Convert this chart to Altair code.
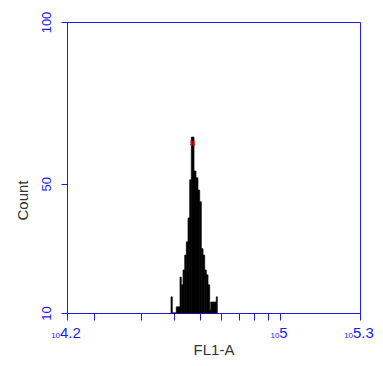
import altair as alt
import pandas as pd

# histogram bins (log10 of FL1-A) and counts
bin_edges_log = [4.5904, 4.5953, 4.6103, 4.6242, 4.6291, 4.6355, 4.6419, 4.6479,
                 4.6543, 4.6607, 4.6667, 4.6768, 4.6843, 4.6918, 4.6982, 4.7042,
                 4.7106, 4.7170, 4.7230, 4.7294, 4.7357, 4.7395, 4.7605, 4.7643]
counts = [15.0, 10.0, 11.9, 21.1, 18.7, 23.3, 27.9, 32.0, 39.4, 51.2, 64.4, 53.9,
          51.8, 48.0, 44.4, 29.9, 27.9, 23.3, 21.8, 18.7, 10.9, 13.4, 15.0]

peak_log = [4.6718]
peak_count = [62.5]

x_tick_log = [4.2, 4.30103, 4.47712, 4.60206, 4.69897, 4.77815, 4.84510, 4.90309, 4.95424, 5.0, 5.3]
x_label_log = [4.2, 5.0, 5.3]
x_label_exp = ["4.2", "5", "5.3"]
y_ticks = [10, 50, 100]

BLUE = "#1c1cf0"
FONT = "Liberation Sans"

hist = pd.DataFrame({
    "lo": [10 ** v for v in bin_edges_log[:-1]],
    "hi": [10 ** v for v in bin_edges_log[1:]],
    "count": counts,
})
peak = pd.DataFrame({"x": [10 ** v for v in peak_log], "y": peak_count})

xscale = alt.Scale(type="log", domain=[10 ** 4.2, 10 ** 5.3], nice=False)
yscale = alt.Scale(domain=[10, 100], nice=False, zero=False)

bars = alt.Chart(hist).mark_bar(color="black", stroke="black", strokeWidth=0.7).encode(
    x=alt.X("lo:Q", scale=xscale, axis=alt.Axis(
        values=[10 ** v for v in x_tick_log], labels=False, grid=False,
        tickSize=7, tickColor=BLUE, domainColor=BLUE, title="FL1-A",
        titleFont=FONT, titleFontSize=15, titleFontWeight="normal", titleColor="#333333",
        titleY=41, titleBaseline="alphabetic")),
    x2="hi:Q",
    y=alt.Y("count:Q", scale=yscale, axis=alt.Axis(
        values=y_ticks, grid=False, tickSize=6, tickColor=BLUE, domainColor=BLUE,
        labelColor=BLUE, labelFont=FONT, labelFontSize=13, labelAngle=270,
        labelAlign="center", labelBaseline="bottom", labelPadding=8,
        title="Count", titleFont=FONT, titleFontSize=15, titleFontWeight="normal",
        titleColor="#333333", titleAngle=270, titleAlign="center",
        titleBaseline="middle", titleX=-45, titleY=178)),
    y2=alt.datum(10),
)

marker = alt.Chart(peak).mark_point(shape="cross", angle=45, color="red", filled=True, size=35).encode(
    x=alt.X("x:Q", scale=xscale), y=alt.Y("y:Q", scale=yscale))

layers = [bars, marker]
sub_w = 8.9
for v, e in zip(x_label_log, x_label_exp):
    ew = sum(4.17 if c == "." else 8.34 for c in e)
    W = sub_w + ew
    start = -W / 2 - 1
    df = pd.DataFrame({"x": [10 ** v], "sub": ["10"], "exp": [e]})
    layers.append(alt.Chart(df).mark_text(font=FONT, fontSize=8, color=BLUE, align="left",
                                          baseline="alphabetic", dx=start, dy=25).encode(
        x=alt.X("x:Q", scale=xscale), y=alt.datum(10), text="sub:N"))
    layers.append(alt.Chart(df).mark_text(font=FONT, fontSize=15, color=BLUE, align="left",
                                          baseline="alphabetic", dx=start + sub_w, dy=25).encode(
        x=alt.X("x:Q", scale=xscale), y=alt.datum(10), text="exp:N"))

chart = alt.layer(*layers).properties(
    width=293, height=291,
    autosize=alt.AutoSizeParams(type="none"),
    padding={"left": 59, "top": 14, "right": 15, "bottom": 45},
    background="white",
).configure_view(stroke=BLUE, strokeWidth=1)

chart.save("out.html", embed_options={"renderer": "svg", "actions": False})
